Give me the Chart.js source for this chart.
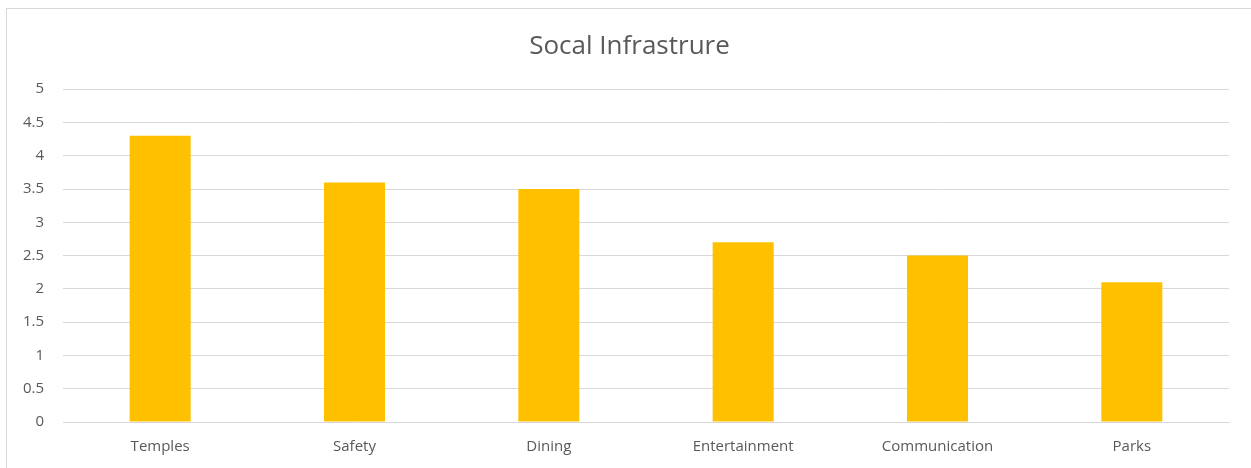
<!DOCTYPE html>
<html>
<head>
<meta charset="utf-8">
<script src="https://cdn.jsdelivr.net/npm/chart.js@4/dist/chart.umd.min.js"></script>
<style>
  html, body { margin: 0; padding: 0; background: #fff; }
  #wrap { position: relative; width: 1251px; height: 468px; }
  #frame { position: absolute; left: 6px; top: 8px; right: -2px; bottom: -2px; border-left: 1px solid #d9d9d9; border-top: 1px solid #d9d9d9; }
  canvas { position: absolute; left: 0; top: 0; }
</style>
</head>
<body>
<div id="wrap">
  <div id="frame"></div>
  <canvas id="c" width="1251" height="468"></canvas>
</div>
<script>
const chartTitle = "Socal Infrastrure";
const categories = ["Temples", "Safety", "Dining", "Entertainment", "Communication", "Parks"];
const scores = [4.3, 3.6, 3.5, 2.7, 2.5, 2.1];
const yTicks = [0, 0.5, 1, 1.5, 2, 2.5, 3, 3.5, 4, 4.5, 5];
const yTickLabels = ["0", "0.5", "1", "1.5", "2", "2.5", "3", "3.5", "4", "4.5", "5"];

const textColor = "#595959";
const gridColor = "#d9d9d9";
const fontFamily = "'Open Sans', 'Liberation Sans', sans-serif";

new Chart(document.getElementById("c"), {
  type: "bar",
  data: {
    labels: categories,
    datasets: [{
      label: "Score",
      data: scores,
      backgroundColor: "#FFC000",
      borderWidth: 0,
      categoryPercentage: 1,
      barPercentage: 0.314
    }]
  },
  options: {
    responsive: false,
    animation: false,
    devicePixelRatio: 1,
    layout: { padding: { left: 8, right: 0, top: 0, bottom: 0 } },
    plugins: {
      legend: { display: false },
      tooltip: { enabled: false },
      title: {
        display: true,
        text: chartTitle,
        color: textColor,
        font: { family: fontFamily, size: 26, weight: "normal" },
        padding: { top: 31, bottom: 27 }
      }
    },
    scales: {
      x: {
        grid: { display: false, drawTicks: false },
        border: { display: true, color: gridColor, width: 1 },
        ticks: { color: textColor, font: { family: fontFamily, size: 15 }, padding: 16, maxRotation: 0 },
        afterFit: (s) => { s.height = 46; }
      },
      y: {
        min: 0,
        max: 5,
        afterBuildTicks: (s) => { s.ticks = yTicks.map(v => ({ value: v })); },
        grid: { color: gridColor, lineWidth: 1, drawTicks: false },
        border: { display: false },
        ticks: {
          color: textColor,
          font: { family: fontFamily, size: 15 },
          padding: 19,
          callback: (v, i) => yTickLabels[i]
        },
        afterFit: (s) => { s.width = 55; }
      },
      yRight: {
        position: "right",
        display: true,
        min: 0,
        max: 5,
        grid: { display: false, drawTicks: false },
        border: { display: false },
        ticks: { display: false },
        afterFit: (s) => { s.width = 22; }
      }
    }
  }
});
</script>
</body>
</html>
